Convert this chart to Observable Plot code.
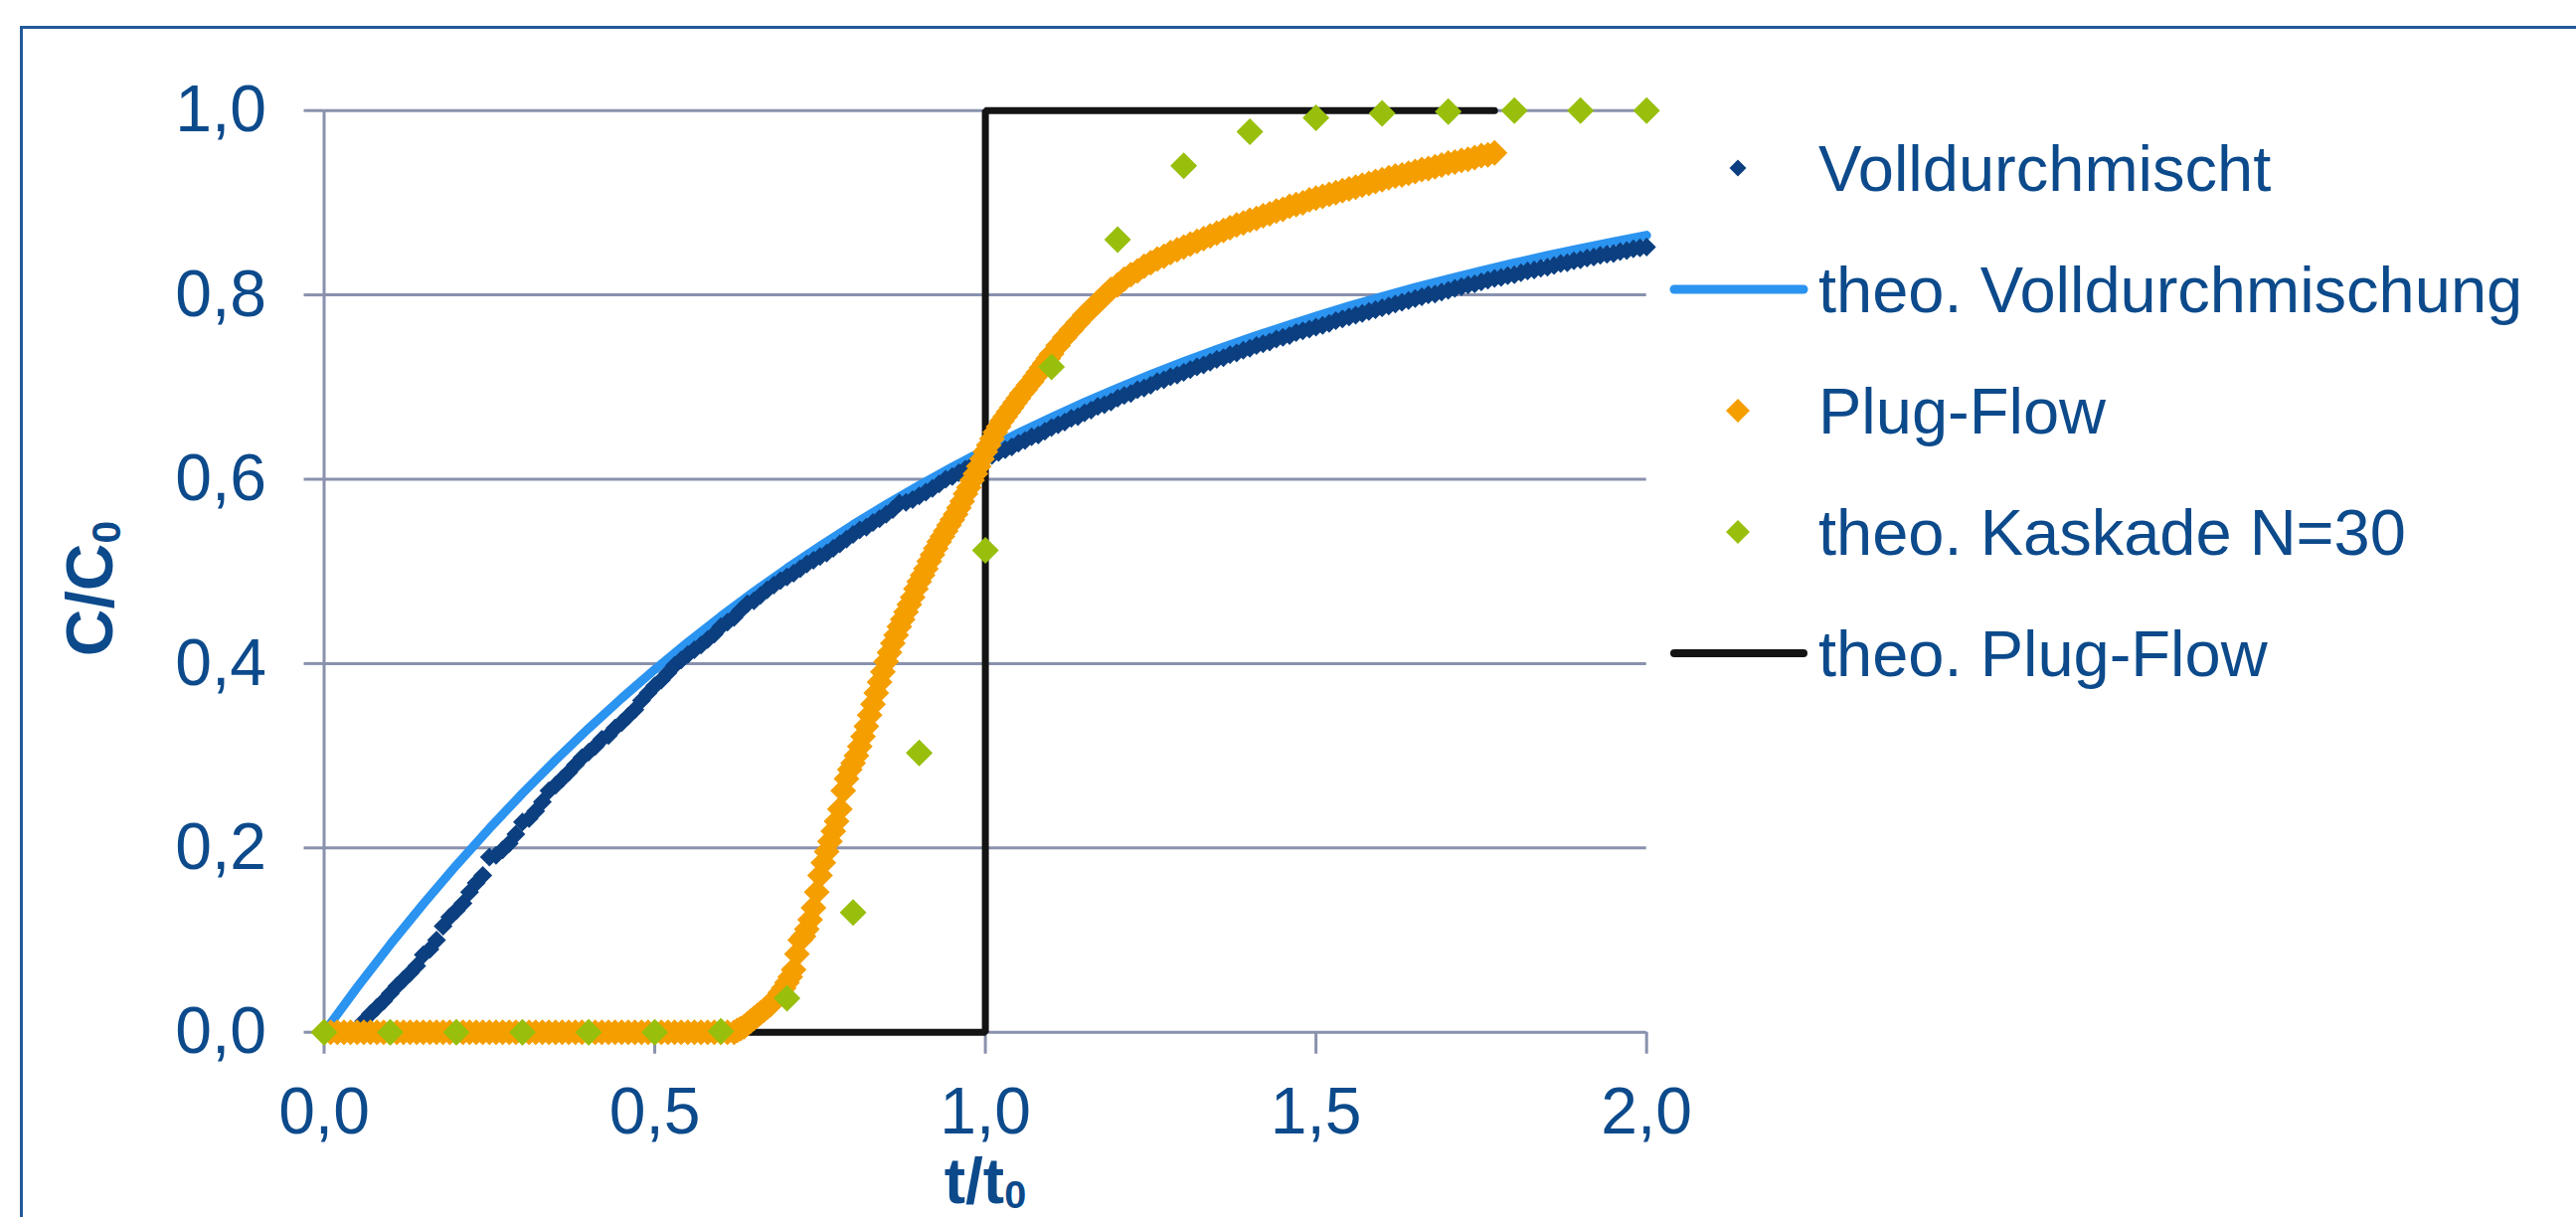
<!DOCTYPE html>
<html>
<head>
<meta charset="utf-8">
<script src="https://cdn.jsdelivr.net/npm/d3@7"></script>
<script src="https://cdn.jsdelivr.net/npm/@observablehq/plot@0.6"></script>
<style>
  html, body { margin: 0; padding: 0; background: #ffffff; overflow: hidden; }
  #wrap { position: relative; width: 2591px; height: 1224px; overflow: hidden; font-family: "Liberation Sans", Arial, sans-serif; }
  #frame { position: absolute; left: 20px; top: 26px; width: 4000px; height: 4000px;
           border-left: 3px solid #22599a; border-top: 3px solid #22599a; }
  #chart { position: absolute; left: 0; top: 0; }
  #legend { position: absolute; left: 0; top: 0; }
  .title { position: absolute; font-weight: bold; color: #0c4a8b; white-space: nowrap; line-height: 1; }
  .title sub { font-size: 0.62em; vertical-align: -0.2em; line-height: 0; }
  #ytitle { left: 90px; top: 592px; font-size: 66px; transform: translate(-50%, -50%) rotate(-90deg); }
  #xtitle { left: 991px; top: 1156px; font-size: 64px; transform: translateX(-50%); }
  #xtitle sub { vertical-align: -0.12em; }
</style>
</head>
<body>
<div id="wrap">
  <div id="frame"></div>
  <div id="chart"></div>
  <svg id="legend" width="2591" height="1224"></svg>
  <div class="title" id="ytitle">C/C<sub>0</sub></div>
  <div class="title" id="xtitle">t/t<sub>0</sub></div>
</div>
<script>
// Axis ticks
const tTicks = [0, 0.5, 1, 1.5, 2];
const cTicks = [0, 0.2, 0.4, 0.6, 0.8, 1];

// Measured: fully mixed reactor, sampled every 0.01 t/t0 starting at 0.05
const mixedStart = 0.05, mixedStep = 0.01;
const mixedValues = [
  0.004, 0.012, 0.020, 0.027, 0.034, 0.042, 0.050, 0.057, 0.064, 0.072,
  0.084, 0.090, 0.100, 0.115, 0.125, 0.132, 0.140, 0.152, 0.162, 0.170,
  0.190, 0.192, 0.198, 0.205, 0.215, 0.228, 0.232, 0.240, 0.250, 0.262,
  0.268, 0.275, 0.282, 0.290, 0.298, 0.304, 0.310, 0.318, 0.322, 0.330,
  0.336, 0.343, 0.350, 0.360, 0.368, 0.376, 0.382, 0.390, 0.398, 0.404,
  0.410, 0.415, 0.420, 0.426, 0.432, 0.440, 0.445, 0.450, 0.458, 0.465,
  0.468, 0.474, 0.480, 0.485, 0.490, 0.494, 0.498, 0.503, 0.508, 0.512,
  0.516, 0.520, 0.525, 0.530, 0.535, 0.540, 0.545, 0.548, 0.553, 0.557,
  0.562, 0.567, 0.574, 0.575, 0.578, 0.582, 0.586, 0.590, 0.595, 0.600,
  0.603, 0.607, 0.611, 0.615, 0.619, 0.623,
  0.626, 0.629, 0.632, 0.635, 0.639, 0.642, 0.646, 0.648, 0.652, 0.656,
  0.659, 0.662, 0.666, 0.668, 0.672, 0.675, 0.679, 0.681, 0.684, 0.688,
  0.691, 0.693, 0.697, 0.699, 0.702, 0.706, 0.708, 0.711, 0.713, 0.716,
  0.719, 0.722, 0.724, 0.727, 0.730, 0.732, 0.735, 0.737, 0.740, 0.742,
  0.745, 0.747, 0.749, 0.752, 0.754, 0.756, 0.759, 0.761, 0.763, 0.765,
  0.767, 0.769, 0.772, 0.774, 0.776, 0.778, 0.780, 0.782, 0.784, 0.786,
  0.788, 0.790, 0.792, 0.794, 0.796, 0.798, 0.800, 0.801, 0.803, 0.805,
  0.807, 0.809, 0.811, 0.812, 0.814, 0.816, 0.818, 0.819, 0.821, 0.822,
  0.824, 0.826, 0.827, 0.829, 0.830, 0.832, 0.834, 0.835, 0.837, 0.838,
  0.840, 0.841, 0.843, 0.844, 0.845, 0.847, 0.848, 0.850, 0.851, 0.852
];

// Theoretical fully mixed reactor
const theoMixT = [
  0, 0.05, 0.1, 0.15, 0.2, 0.25, 0.3, 0.35, 0.4, 0.45, 0.5, 0.55, 0.6, 0.65, 0.7,
  0.75, 0.8, 0.85, 0.9, 0.95, 1, 1.05, 1.1, 1.15, 1.2, 1.25, 1.3, 1.35, 1.4, 1.45,
  1.5, 1.55, 1.6, 1.65, 1.7, 1.75, 1.8, 1.85, 1.9, 1.95, 2
];
const theoMixValues = [
  0, 0.0488, 0.0952, 0.1393, 0.1813, 0.2212, 0.2592, 0.2953, 0.3297, 0.3624, 0.3935,
  0.4231, 0.4512, 0.4780, 0.5034, 0.5276, 0.5507, 0.5726, 0.5934, 0.6133, 0.6321,
  0.6501, 0.6671, 0.6834, 0.6988, 0.7135, 0.7275, 0.7408, 0.7534, 0.7654, 0.7769,
  0.7878, 0.7981, 0.8080, 0.8173, 0.8262, 0.8347, 0.8428, 0.8504, 0.8577, 0.8647
];

// Measured: plug-flow reactor in three sampling segments
// (baseline every 0.01, breakthrough every 0.005, tail every 0.01)
const plugBaseStart = 0, plugBaseStep = 0.01;
const plugBaseValues = [
  0, 0, 0, 0, 0, 0, 0, 0, 0, 0,
  0, 0, 0, 0, 0, 0, 0, 0, 0, 0,
  0, 0, 0, 0, 0, 0, 0, 0, 0, 0,
  0, 0, 0, 0, 0, 0, 0, 0, 0, 0,
  0, 0, 0, 0, 0, 0, 0, 0, 0, 0,
  0, 0, 0, 0, 0, 0, 0, 0, 0, 0,
  0, 0
];
const plugRiseStart = 0.62, plugRiseStep = 0.005;
const plugRiseValues = [
  0.000, 0.002, 0.004, 0.006, 0.009, 0.012, 0.015, 0.018, 0.021, 0.024,
  0.027, 0.030, 0.034, 0.038, 0.043, 0.048, 0.054, 0.060, 0.068, 0.085,
  0.100, 0.104, 0.112, 0.122, 0.135, 0.152, 0.170, 0.184, 0.196, 0.207,
  0.218, 0.229, 0.242, 0.262, 0.275, 0.285, 0.292, 0.300, 0.310, 0.321,
  0.332, 0.344, 0.356, 0.368, 0.380, 0.391, 0.402, 0.412, 0.422, 0.431,
  0.440, 0.448, 0.456, 0.464, 0.472, 0.481, 0.489, 0.496, 0.503, 0.511,
  0.518, 0.525, 0.532, 0.538, 0.544, 0.550, 0.556, 0.562, 0.569, 0.576,
  0.584, 0.591, 0.599, 0.606, 0.614, 0.622, 0.630, 0.637, 0.644, 0.651,
  0.657, 0.663, 0.668, 0.673, 0.678, 0.683, 0.688, 0.693, 0.697, 0.702,
  0.706, 0.711, 0.716, 0.721, 0.726, 0.731, 0.736
];
const plugTailStart = 1.11, plugTailStep = 0.01;
const plugTailValues = [
  0.745, 0.754, 0.762, 0.770, 0.778, 0.785, 0.792, 0.799, 0.806,
  0.811, 0.817, 0.822, 0.826, 0.831, 0.835, 0.839, 0.842, 0.846, 0.849,
  0.852, 0.855, 0.858, 0.861, 0.864, 0.867, 0.870, 0.873, 0.876, 0.878,
  0.881, 0.883, 0.886, 0.888, 0.891, 0.893, 0.896, 0.898, 0.900, 0.903,
  0.905, 0.907, 0.909, 0.911, 0.913, 0.915, 0.917, 0.919, 0.921, 0.923,
  0.925, 0.927, 0.929, 0.930, 0.932, 0.934, 0.936, 0.937, 0.939, 0.941,
  0.943, 0.944, 0.946, 0.947, 0.949, 0.951, 0.952, 0.954
];

// Theoretical cascade of N = 30 tanks
const cascadeT = [0, 0.1, 0.2, 0.3, 0.4, 0.5, 0.6, 0.7, 0.8, 0.9, 1, 1.1, 1.2, 1.3, 1.4, 1.5, 1.6, 1.7, 1.8, 1.9, 2];
const cascadeValues = [0, 0, 0, 0, 0, 0, 0.001, 0.037, 0.130, 0.303, 0.523, 0.722, 0.860, 0.940, 0.977, 0.992, 0.997, 0.999, 1, 1, 1];

// Theoretical ideal plug flow (step response)
const theoPlugT = [0, 1, 1, 1.77];
const theoPlugValues = [0, 0, 1, 1];

const legendLabels = ["Volldurchmischt", "theo. Volldurchmischung", "Plug-Flow", "theo. Kaskade N=30", "theo. Plug-Flow"];

const COLORS = {
  mixed: "#0b3f80",
  theoMix: "#2b93f0",
  plug: "#f59e00",
  cascade: "#98bf0c",
  theoPlug: "#141414",
  grid: "#8991ad",
  text: "#0c4a8b"
};

// Rhombus marker whose half-diagonal equals the dot radius r (size = π r²)
const rhombus = {
  draw(context, size) {
    const h = Math.sqrt(size / Math.PI);
    context.moveTo(0, -h);
    context.lineTo(h, 0);
    context.lineTo(0, h);
    context.lineTo(-h, 0);
    context.closePath();
  }
};
const R_MIXED = 9.5, R_PLUG = 13, R_CASCADE = 13.5;

const sampled = (start, step, values) =>
  values.map((v, i) => ({t: +(start + i * step).toFixed(3), c: v}));

const mixed = sampled(mixedStart, mixedStep, mixedValues);
const plug = [
  ...sampled(plugBaseStart, plugBaseStep, plugBaseValues),
  ...sampled(plugRiseStart, plugRiseStep, plugRiseValues),
  ...sampled(plugTailStart, plugTailStep, plugTailValues)
];
const theoMix = theoMixT.map((t, i) => ({t, c: theoMixValues[i]}));
const cascade = cascadeT.map((t, i) => ({t, c: cascadeValues[i]}));
const theoPlug = theoPlugT.map((t, i) => ({t, c: theoPlugValues[i]}));

const fmt = d => d.toFixed(1).replace(".", ",");

const W = 1700, H = 1224;
const chart = Plot.plot({
  width: W,
  height: H,
  marginLeft: 325.5,
  marginRight: W - 1655.7,
  marginTop: 110.7,
  marginBottom: H - 1037.7,
  x: {domain: [0, 2]},
  y: {domain: [0, 1]},
  style: {
    fontFamily: "'Liberation Sans', Arial, sans-serif",
    fontSize: "66px",
    background: "transparent",
    overflow: "visible"
  },
  marks: [
    Plot.gridY(cTicks, {stroke: COLORS.grid, strokeOpacity: 1, strokeWidth: 3}),
    Plot.ruleX([0], {stroke: COLORS.grid, strokeWidth: 3}),
    Plot.axisY({
      ticks: cTicks, tickFormat: fmt, tickSize: 20, tickPadding: 38,
      stroke: COLORS.grid, strokeWidth: 3, fill: COLORS.text, fontSize: 66, label: null
    }),
    Plot.axisX({
      ticks: tTicks, tickFormat: fmt, tickSize: 22, tickPadding: 33,
      stroke: COLORS.grid, strokeWidth: 3, fill: COLORS.text, fontSize: 66, label: null
    }),
    Plot.line(theoPlug, {x: "t", y: "c", stroke: COLORS.theoPlug, strokeWidth: 7, strokeLinejoin: "miter"}),
    Plot.line(theoMix, {x: "t", y: "c", stroke: COLORS.theoMix, strokeWidth: 9, strokeLinecap: "round"}),
    Plot.dot(mixed, {x: "t", y: "c", symbol: rhombus, r: R_MIXED, fill: COLORS.mixed}),
    Plot.dot(plug, {x: "t", y: "c", symbol: rhombus, r: R_PLUG, fill: COLORS.plug}),
    Plot.dot(cascade, {x: "t", y: "c", symbol: rhombus, r: R_CASCADE, fill: COLORS.cascade})
  ]
});
document.getElementById("chart").appendChild(chart);

// Legend to the right of the plot area
const legendKinds = [
  {kind: "dot", color: COLORS.mixed, r: 8.5},
  {kind: "line", color: COLORS.theoMix, w: 9},
  {kind: "dot", color: COLORS.plug, r: 12},
  {kind: "dot", color: COLORS.cascade, r: 12},
  {kind: "line", color: COLORS.theoPlug, w: 8}
];
const lg = d3.select("#legend");
const rowY0 = 169, rowStep = 122, swatchX = 1748, textX = 1829;
legendLabels.forEach((label, i) => {
  const y = rowY0 + i * rowStep;
  const k = legendKinds[i];
  if (k.kind === "dot") {
    lg.append("path")
      .attr("d", d3.symbol(rhombus, Math.PI * k.r * k.r)())
      .attr("transform", `translate(${swatchX},${y})`)
      .attr("fill", k.color);
  } else {
    lg.append("line")
      .attr("x1", 1684).attr("x2", 1814).attr("y1", y).attr("y2", y)
      .attr("stroke", k.color).attr("stroke-width", k.w).attr("stroke-linecap", "round");
  }
  lg.append("text")
    .attr("x", textX).attr("y", y + 23)
    .attr("fill", COLORS.text)
    .attr("font-family", "'Liberation Sans', Arial, sans-serif")
    .attr("font-size", 65)
    .text(label);
});
</script>
</body>
</html>
